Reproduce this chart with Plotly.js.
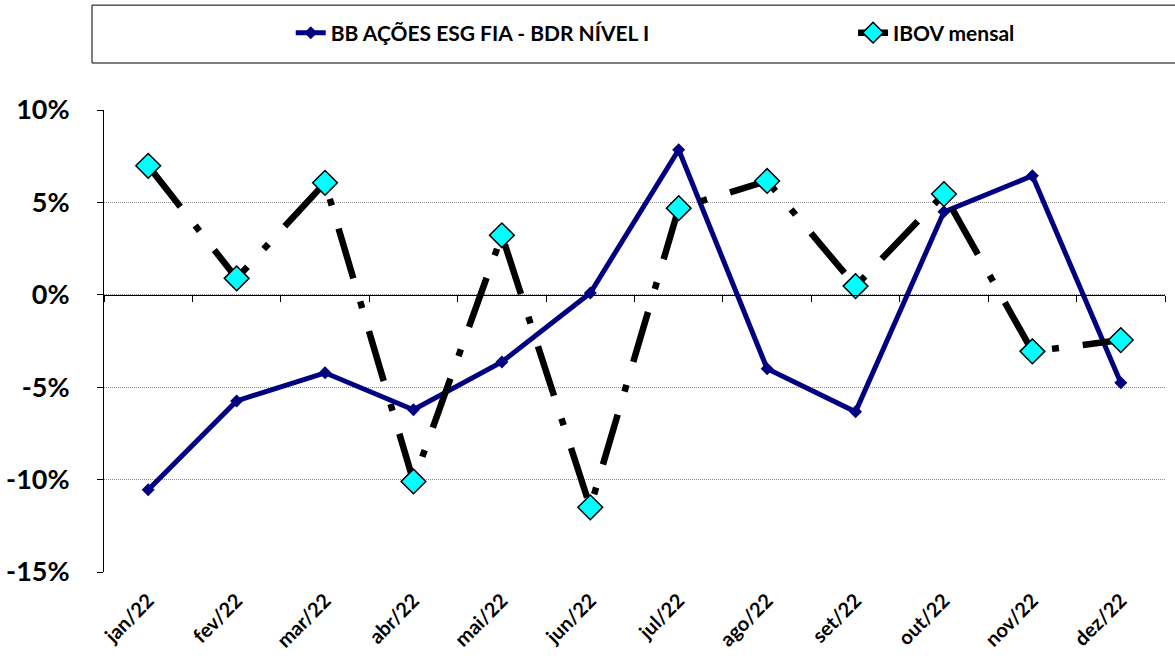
<!DOCTYPE html>
<html>
<head>
<meta charset="utf-8">
<script src="https://cdn.plot.ly/plotly-3.0.1.min.js"></script>
<style>html,body{margin:0;padding:0;background:#fff;}#chart{width:1175px;height:661px;}</style>
</head>
<body>
<div id="chart"></div>
<script>
const months = ["jan/22","fev/22","mar/22","abr/22","mai/22","jun/22","jul/22","ago/22","set/22","out/22","nov/22","dez/22"];
const fundName = "BB AÇÕES ESG FIA - BDR NÍVEL I";
const fundValues = [-10.55, -5.74, -4.22, -6.22, -3.63, 0.10, 7.85, -4.00, -6.33, 4.49, 6.44, -4.76];
const ibovName = "IBOV mensal";
const ibovValues = [6.98, 0.89, 6.06, -10.10, 3.22, -11.50, 4.69, 6.16, 0.47, 5.45, -3.06, -2.45];
const yTickVals = [-15, -10, -5, 0, 5, 10];
const yTickText = ["-15%", "-10%", "-5%", "0%", "5%", "10%"];

const FONT = "Lato, 'Open Sans', sans-serif";
const legendFont = {family: FONT, size: 21, weight: 700, color: "#000"};

const traces = [
  {
    x: months, y: fundValues, name: fundName, type: "scatter", mode: "lines+markers",
    line: {color: "#000080", width: 5},
    marker: {symbol: "diamond", size: 10, color: "#000080"},
    legend: "legend", hoverinfo: "skip"
  },
  {
    x: months, y: ibovValues, name: ibovName, type: "scatter", mode: "lines+markers",
    line: {color: "#000000", width: 6.5, dash: "52px,24px,7px,24px"},
    marker: {symbol: "diamond", size: 19, color: "#00FFFF", line: {color: "#000000", width: 1.5}},
    legend: "legend2", hoverinfo: "skip"
  },
  {
    x: months, y: fundValues, xaxis: "x2", type: "scatter", mode: "none",
    showlegend: false, hoverinfo: "skip"
  }
];

const layout = {
  width: 1175, height: 661,
  margin: {l: 104, r: 10, t: 110, b: 89, autoexpand: false},
  paper_bgcolor: "#ffffff", plot_bgcolor: "#ffffff",
  font: {family: FONT, color: "#000000"},
  showlegend: true,
  legend: {
    orientation: "h", x: 0.176, xanchor: "left", y: 1.1667, yanchor: "middle",
    font: legendFont, bgcolor: "rgba(0,0,0,0)", borderwidth: 0
  },
  legend2: {
    orientation: "h", x: 0.706, xanchor: "left", y: 1.1667, yanchor: "middle",
    font: legendFont, bgcolor: "rgba(0,0,0,0)", borderwidth: 0
  },
  xaxis: {
    type: "category", categoryorder: "array", categoryarray: months,
    range: [-0.5, 11.5], showgrid: false, zeroline: false, showline: false,
    ticks: "", tickangle: -45, ticklabelstandoff: 12, automargin: false,
    tickfont: {family: FONT, size: 20, weight: 700, color: "#000"}
  },
  xaxis2: {
    type: "category", categoryorder: "array", categoryarray: months,
    overlaying: "x", anchor: "free", position: 0.6, range: [-0.5, 11.5],
    showgrid: false, zeroline: false, showline: true, linecolor: "#000", linewidth: 1,
    ticks: "outside", ticklen: 6, tickcolor: "#000", tickson: "boundaries",
    showticklabels: false, automargin: false
  },
  yaxis: {
    range: [-15, 10], tickvals: yTickVals, ticktext: yTickText,
    showgrid: true, gridcolor: "#8c8c8c", griddash: "1px,1px", gridwidth: 1,
    zeroline: false, showline: true, linecolor: "#000", linewidth: 1,
    ticks: "outside", ticklen: 6, tickcolor: "#000", ticklabelstandoff: 22, automargin: false,
    tickfont: {family: FONT, size: 27, weight: 700, color: "#000"}
  },
  shapes: [
    {type: "rect", xref: "paper", yref: "paper", x0: -0.0113, x1: 1.02, y0: 1.1017, y1: 1.227,
     line: {color: "#000", width: 1}, fillcolor: "rgba(0,0,0,0)"}
  ]
};

Plotly.newPlot("chart", traces, layout, {displayModeBar: false, staticPlot: true});
</script>
</body>
</html>
